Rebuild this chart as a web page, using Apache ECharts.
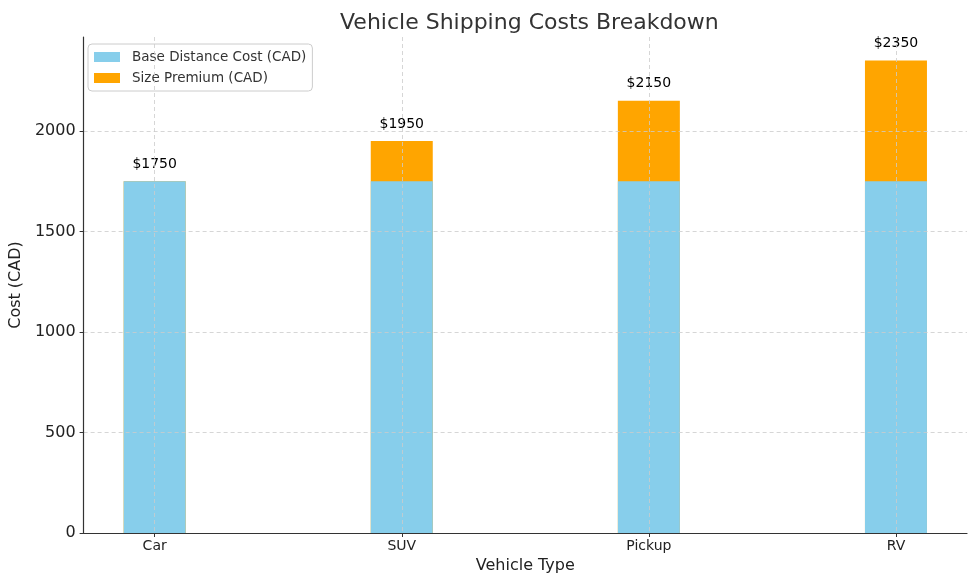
<!DOCTYPE html>
<html>
<head>
<meta charset="utf-8">
<script src="https://cdn.jsdelivr.net/npm/echarts@6/dist/echarts.min.js"></script>
<style>
  html, body { margin: 0; padding: 0; background: #fff; }
  #main { width: 979px; height: 585px; }
</style>
</head>
<body>
<div id="main"></div>
<script>
var categories = ['Car', 'SUV', 'Pickup', 'RV'];
var baseCost = [1750, 1750, 1750, 1750];
var sizePremium = [0, 200, 400, 600];
var yTicks = [0, 500, 1000, 1500, 2000];

// premium sits on top of base: draw the total bar behind the base bar
var totals = baseCost.map(function (v, i) { return v + sizePremium[i]; });
var idx = categories.map(function (c, i) { return i; });

var chart = echarts.init(document.getElementById('main'));
var font = 'DejaVu Sans';
var grid = { color: '#cccccc', width: 0.8, type: [4, 3] };

chart.setOption({
  animation: false,
  textStyle: { fontFamily: font },
  title: {
    text: 'Vehicle Shipping Costs Breakdown',
    left: 335, top: 7,
    textStyle: { fontSize: 22, fontWeight: 'normal', color: '#333', fontFamily: font }
  },
  legend: {
    left: 88, top: 44,
    orient: 'vertical',
    icon: 'rect',
    itemWidth: 26, itemHeight: 10, itemGap: 7,
    padding: [6, 6, 6, 6],
    borderColor: '#cccccc', borderWidth: 1, borderRadius: 4,
    textStyle: { fontSize: 13.5, color: '#333', fontFamily: font, padding: [0, 0, 0, 7] },
    data: ['Base Distance Cost (CAD)', 'Size Premium (CAD)']
  },
  grid: { left: 81, right: 12, top: 37, bottom: 52 },
  xAxis: {
    type: 'value',
    min: -0.2875, max: 3.2875,
    z: 5,
    name: 'Vehicle Type', nameLocation: 'middle', nameGap: 24,
    nameTextStyle: { fontSize: 16, color: '#222' },
    axisLine: { onZero: false, lineStyle: { color: '#333', width: 1.2 } },
    axisTick: { show: true, customValues: idx, length: 4, lineStyle: { color: '#333' } },
    axisLabel: {
      customValues: idx, fontSize: 14, color: '#222', margin: 6,
      formatter: function (v) { return categories[Math.round(v)]; }
    },
    splitLine: { show: true, lineStyle: grid }
  },
  yAxis: {
    type: 'value',
    min: 0, max: 2467.5,
    z: 5,
    name: 'Cost (CAD)', nameLocation: 'middle', nameGap: 48,
    nameTextStyle: { fontSize: 16, color: '#222' },
    axisLine: { show: true, onZero: false, lineStyle: { color: '#333', width: 1.2 } },
    axisTick: { show: true, customValues: yTicks, length: 4, lineStyle: { color: '#333' } },
    axisLabel: {
      customValues: yTicks, fontSize: 16, color: '#222', margin: 8,
      formatter: function (v) { return String(v); }
    },
    splitLine: { show: true, lineStyle: grid }
  },
  series: [
    {
      name: 'Size Premium (CAD)',
      type: 'bar', barWidth: 62, z: 1,
      itemStyle: { color: '#FFA500' },
      label: {
        show: true, position: 'top', distance: 10,
        fontSize: 14, color: '#000', fontFamily: font,
        formatter: function (p) { return '$' + totals[p.dataIndex]; }
      },
      data: totals.map(function (v, i) { return [i, v]; })
    },
    {
      name: 'Base Distance Cost (CAD)',
      type: 'bar', barWidth: 62, barGap: '-100%', z: 2,
      itemStyle: { color: '#87CEEB' },
      data: baseCost.map(function (v, i) { return [i, v]; })
    }
  ]
});
</script>
</body>
</html>
